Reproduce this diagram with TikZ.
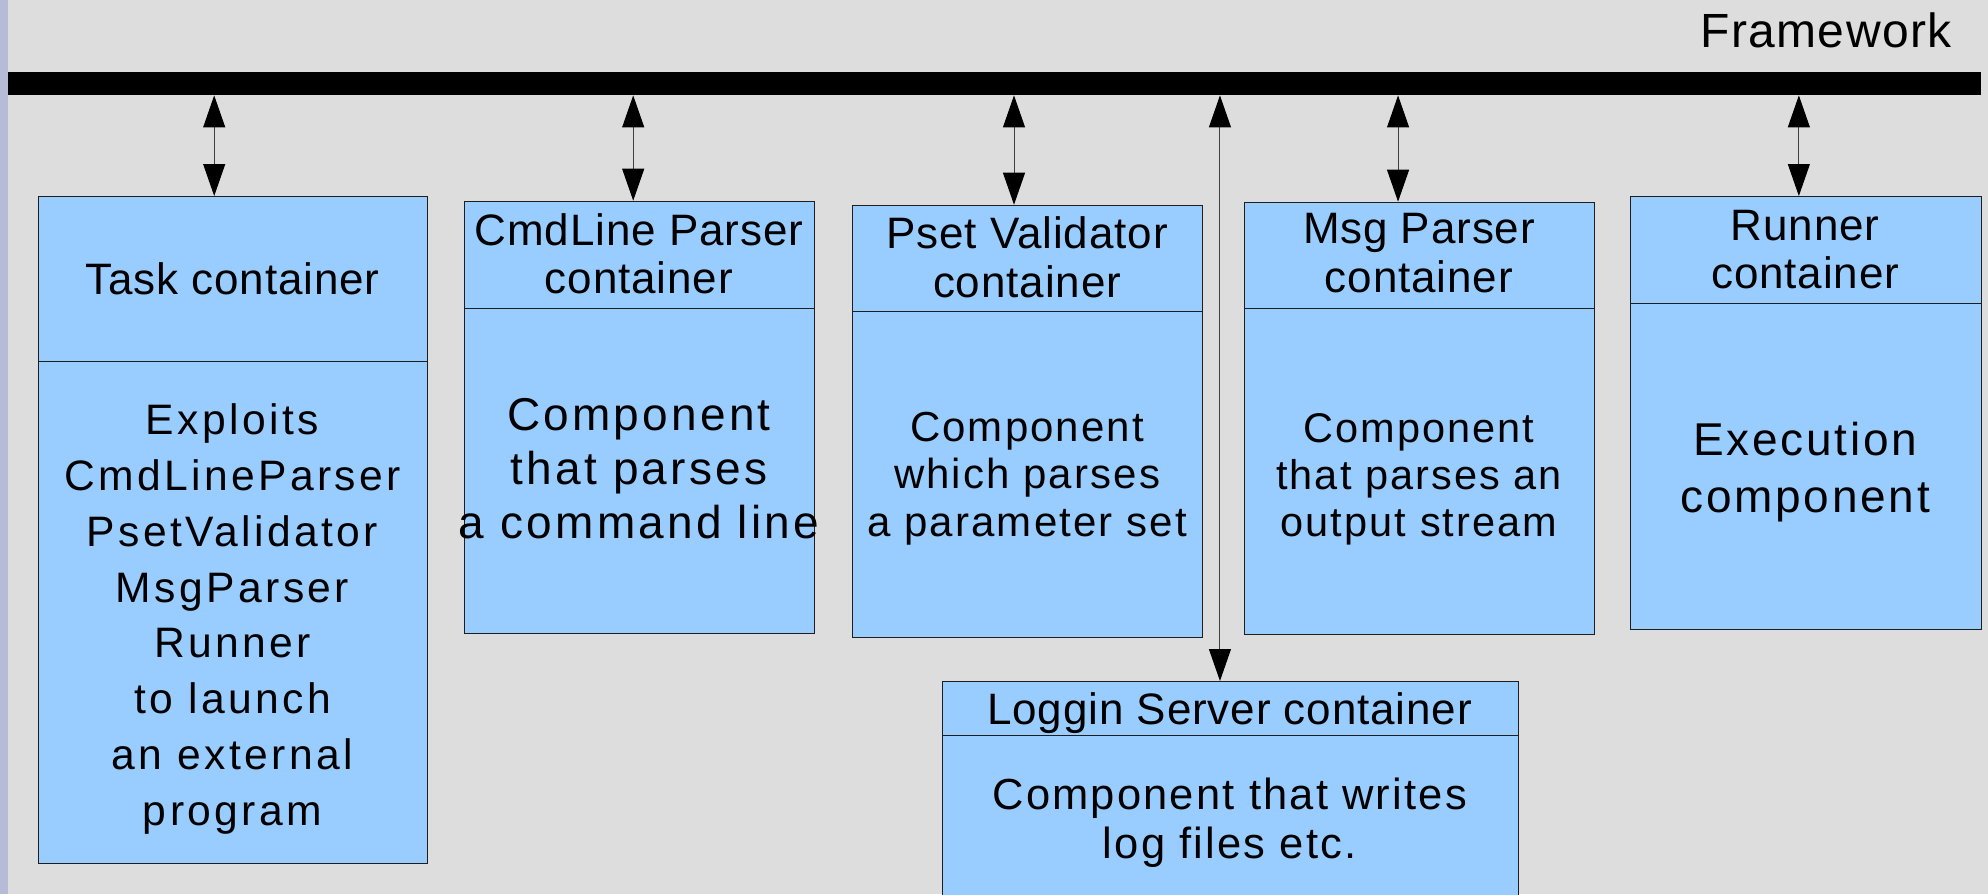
\documentclass[tikz,border=0pt]{standalone}
\usepackage{fontspec}
\setmainfont{Liberation Sans}
\usetikzlibrary{arrows.meta}
\definecolor{canvas}{HTML}{DDDDDD}
\definecolor{edgestrip}{HTML}{B6BBD8}
\definecolor{boxblue}{HTML}{99CCFF}
\definecolor{rulegray}{HTML}{1E1E1E}
\newcommand\txtface[3]{\fontsize{#1}{#2}\selectfont\addfontfeature{LetterSpace=#3}}
\begin{document}
\begin{tikzpicture}[x=1pt,y=-1pt,
  part/.style={draw=rulegray, line width=1pt, fill=boxblue, inner sep=0pt, anchor=north west},
  link/.style={draw=black!75, line width=1pt,
    {Triangle[length=32pt,width=22pt,black]}-{Triangle[length=32pt,width=22pt,black]}},
  lbl/.style={inner sep=0pt, anchor=north, align=center},
  headtxt/.style={lbl, font=\txtface{44}{48.4}{2}},
]
\useasboundingbox (0,0) rectangle (1988,894);
\clip (0,0) rectangle (1988,894);
\fill[canvas] (0,0) rectangle (1988,894);
\fill[edgestrip] (0,0) rectangle (8,894);

% framework bus
\node[fill=black, inner sep=0pt, minimum width=1973pt, minimum height=23pt, anchor=north west] (bus) at (8,72) {};
\node[inner sep=0pt, anchor=north east, font=\txtface{48}{52}{3}] (busT) at (1952,12.2) {Framework};

% containers: header part and body part
\node[part, minimum width=389.6pt, minimum height=164.7pt] (taskH) at (37.7,196) {};
\node[part, minimum width=389.6pt, minimum height=502.6pt] (taskB) at (37.7,360.7) {};

\node[part, minimum width=350.6pt, minimum height=107pt] (cmdH) at (463.7,200.7) {};
\node[part, minimum width=350.6pt, minimum height=325.6pt] (cmdB) at (463.7,307.7) {};

\node[part, minimum width=350.6pt, minimum height=106pt] (psetH) at (851.8,204.7) {};
\node[part, minimum width=350.6pt, minimum height=326.6pt] (psetB) at (851.8,310.7) {};

\node[part, minimum width=350.7pt, minimum height=106.6pt] (msgH) at (1243.6,201.7) {};
\node[part, minimum width=350.7pt, minimum height=325.7pt] (msgB) at (1243.6,308.3) {};

\node[part, minimum width=350.5pt, minimum height=107pt] (runH) at (1630,196) {};
\node[part, minimum width=350.5pt, minimum height=325.7pt] (runB) at (1630,303) {};

\node[part, minimum width=575.7pt, minimum height=54pt] (logH) at (941.8,681) {};
\node[part, minimum width=575.7pt, minimum height=180pt] (logB) at (941.8,735) {};

% header texts
\node[headtxt] (taskHT) at (232.5,262.3) {Task container};
\node[headtxt] (cmdHT) at (639,213.3) {CmdLine Parser\\container};
\node[headtxt] (psetHT) at (1027.1,216.6) {Pset Validator\\container};
\node[headtxt] (msgHT) at (1419,213.3) {Msg Parser\\container};
\node[headtxt] (runHT) at (1805.3,210) {Runner\\container};
\node[headtxt] (logHT) at (1229.7,692.3) {Loggin Server container};

% body texts
\node[lbl, font=\txtface{42.6}{55.8}{8}] (taskBT) at (232.5,403.6)
  {Exploits\\CmdLineParser\\PsetValidator\\MsgParser\\Runner\\to launch\\an external\\program};
\node[lbl, font=\txtface{46}{53.8}{7}] (cmdBT) at (639,398.6)
  {Component\\that parses\\a command line};
\node[lbl, font=\txtface{42}{47.5}{5}] (psetBT) at (1027.1,411.5)
  {Component\\which parses\\a parameter set};
\node[lbl, font=\txtface{41.5}{46.7}{5}] (msgBT) at (1419,413.5)
  {Component\\that parses an\\output stream};
\node[lbl, font=\txtface{46}{56.7}{6}] (runBT) at (1805.3,421.9)
  {Execution\\component};
\node[lbl, font=\txtface{43.5}{48.4}{5}] (logBT) at (1229.7,778.1)
  {Component that writes\\log files etc.};

% links between the bus and each container
\draw[link] ([xshift=-18.8pt]taskH.north |- bus.south) -- ([xshift=-18.8pt]taskH.north);
\draw[link] ([xshift=-6.3pt]cmdH.north |- bus.south) -- ([xshift=-6.3pt]cmdH.north);
\draw[link] ([xshift=-13.6pt]psetH.north |- bus.south) -- ([xshift=-13.6pt]psetH.north);
\draw[link] ([xshift=-21.4pt]msgH.north |- bus.south) -- ([xshift=-21.4pt]msgH.north);
\draw[link] ([xshift=-6.9pt]runH.north |- bus.south) -- ([xshift=-6.9pt]runH.north);
\draw[link] ([xshift=-10.2pt]logH.north |- bus.south) -- ([xshift=-10.2pt]logH.north);
\end{tikzpicture}
\end{document}
